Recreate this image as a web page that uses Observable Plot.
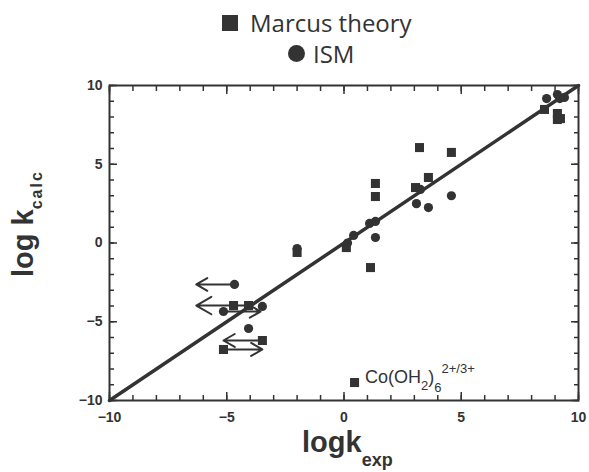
<!DOCTYPE html>
<html>
<head>
<meta charset="utf-8">
<script src="https://cdn.jsdelivr.net/npm/d3@7"></script>
<script src="https://cdn.jsdelivr.net/npm/@observablehq/plot@0.6"></script>
<style>
  body { margin: 0; background: #fff; width: 589px; height: 472px; overflow: hidden; }
  #legend { position: relative; height: 75px; font-family: "Open Sans", sans-serif; font-size: 24px; color: #333; }
  .row { position: absolute; display: flex; align-items: center; white-space: nowrap; }
  .sq { display: inline-block; width: 16px; height: 16px; background: #333; margin-right: 12px; }
  .ci { display: inline-block; width: 17px; height: 17px; border-radius: 50%; background: #333; margin-right: 8px; }
</style>
</head>
<body>
<div id="legend">
  <div class="row" style="left:222px; top:6px;"><span class="sq"></span>Marcus theory</div>
  <div class="row" style="left:288px; top:37px;"><span class="ci"></span>ISM</div>
</div>
<div id="chart"></div>
<script>
// Marcus theory (squares)
const marcusX = [-4.71, -4.07, -3.48, -5.14, -2.0, 0.1, 1.13, 1.34, 1.34, 3.05, 3.22, 3.6, 4.58, 8.55, 9.1, 9.1, 9.23, 0.45];
const marcusY = [-3.97, -3.97, -6.19, -6.76, -0.6, -0.29, -1.56, 3.78, 2.95, 3.52, 6.06, 4.16, 5.75, 8.48, 8.22, 7.84, 7.9, -8.86];
// ISM (circles)
const ismX = [-4.67, -5.14, -3.48, -4.07, -2.0, 0.15, 0.41, 1.09, 1.34, 1.34, 3.09, 3.26, 3.6, 4.58, 8.64, 9.1, 9.2, 9.4];
const ismY = [-2.63, -4.35, -4.03, -5.43, -0.35, 0.0, 0.48, 1.24, 1.37, 0.35, 2.5, 3.4, 2.25, 3.0, 9.17, 9.43, 9.17, 9.24];
// limit arrows
const arrowX1 = [-4.67, -4.07, -5.14, -3.48, -5.14];
const arrowY1 = [-2.63, -3.97, -4.35, -6.19, -6.76];
const arrowX2 = [-6.3, -6.3, -3.56, -5.14, -3.48];
const arrowY2 = [-2.63, -3.97, -4.35, -6.19, -6.76];
// identity line
const lineX = [-10, 10];
const lineY = [-10, 10];
// ticks
const majorTicks = [-10, -5, 0, 5, 10];
const minorTicks = d3.range(-10, 11, 1);
// annotation
const coLabel = {x: 0.45, y: -8.86};

const ink = "#333";
const squares = marcusX.map((x, i) => ({x, y: marcusY[i]}));
const circles = ismX.map((x, i) => ({x, y: ismY[i]}));
const arrows = arrowX1.map((x1, i) => ({x1, y1: arrowY1[i], x2: arrowX2[i], y2: arrowY2[i]}));
const line = lineX.map((x, i) => ({x, y: lineY[i]}));

const tickFont = {fontSize: 14, fontWeight: "bold", fill: ink, label: null};
const blank = () => "";

const plot = Plot.plot({
  width: 589,
  height: 397,
  marginTop: 10,
  marginLeft: 109,
  marginRight: 11,
  marginBottom: 72,
  style: {fontFamily: "'Liberation Sans', Arial, sans-serif", color: ink, background: "#fff"},
  x: {domain: [-10, 10]},
  y: {domain: [-10, 10]},
  marks: [
    Plot.axisX(majorTicks, {anchor: "bottom", tickSize: 0, tickPadding: 12, ...tickFont}),
    Plot.axisY(majorTicks, {anchor: "left", tickSize: 0, tickPadding: 7, ...tickFont}),
    Plot.axisX(majorTicks, {anchor: "bottom", tickSize: -8, tickFormat: blank, stroke: ink, strokeWidth: 1.5, label: null}),
    Plot.axisX(minorTicks, {anchor: "bottom", tickSize: -5, tickFormat: blank, stroke: ink, strokeWidth: 1.5, label: null}),
    Plot.axisX(majorTicks, {anchor: "top", tickSize: -8, tickFormat: blank, stroke: ink, strokeWidth: 1.5, label: null}),
    Plot.axisX(minorTicks, {anchor: "top", tickSize: -5, tickFormat: blank, stroke: ink, strokeWidth: 1.5, label: null}),
    Plot.axisY(majorTicks, {anchor: "left", tickSize: -8, tickFormat: blank, stroke: ink, strokeWidth: 1.5, label: null}),
    Plot.axisY(minorTicks, {anchor: "left", tickSize: -5, tickFormat: blank, stroke: ink, strokeWidth: 1.5, label: null}),
    Plot.axisY(majorTicks, {anchor: "right", tickSize: -8, tickFormat: blank, stroke: ink, strokeWidth: 1.5, label: null}),
    Plot.axisY(minorTicks, {anchor: "right", tickSize: -5, tickFormat: blank, stroke: ink, strokeWidth: 1.5, label: null}),
    Plot.frame({stroke: ink, strokeWidth: 2}),
    Plot.line(line, {x: "x", y: "y", stroke: ink, strokeWidth: 3.5}),
    Plot.arrow(arrows, {x1: "x1", y1: "y1", x2: "x2", y2: "y2", stroke: ink, strokeWidth: 2, headLength: 14, headAngle: 60}),
    Plot.dot(squares, {x: "x", y: "y", symbol: "square", r: 5.1, fill: ink}),
    Plot.dot(circles, {x: "x", y: "y", r: 4.6, fill: ink})
  ]
});
document.getElementById("chart").appendChild(plot);

const svg = d3.select(plot);
const xs = plot.scale("x"), ys = plot.scale("y");
const font = "'Liberation Sans', Arial, sans-serif";

// x-axis title
const xt = svg.append("text")
  .attr("x", 302).attr("y", 377).attr("text-anchor", "start")
  .attr("fill", ink).attr("font-weight", "bold").attr("font-size", 29)
  .attr("font-family", font);
xt.append("tspan").text("logk");
xt.append("tspan").attr("dy", 14).attr("font-size", 18).text("exp");

// y-axis title
const yt = svg.append("text")
  .attr("transform", "translate(33,202) rotate(-90)").attr("text-anchor", "start")
  .attr("fill", ink).attr("font-weight", "bold").attr("font-size", 29)
  .attr("font-family", font);
yt.append("tspan").text("log k");
yt.append("tspan").attr("dy", 9).attr("font-size", 16).attr("letter-spacing", 2).text("calc");

// Co(OH2)6 annotation
const ct = svg.append("text")
  .attr("x", xs.apply(coLabel.x) + 11).attr("y", ys.apply(coLabel.y) + 1).attr("text-anchor", "start")
  .attr("fill", ink).attr("font-size", 18)
  .attr("font-family", font);
ct.append("tspan").text("Co(OH");
ct.append("tspan").attr("dy", 7).attr("font-size", 13).text("2");
ct.append("tspan").attr("dy", -7).text(")");
ct.append("tspan").attr("dy", 9).attr("font-size", 13).text("6");
ct.append("tspan").attr("dy", -19).attr("font-size", 13).text("2+/3+");
</script>
</body>
</html>
